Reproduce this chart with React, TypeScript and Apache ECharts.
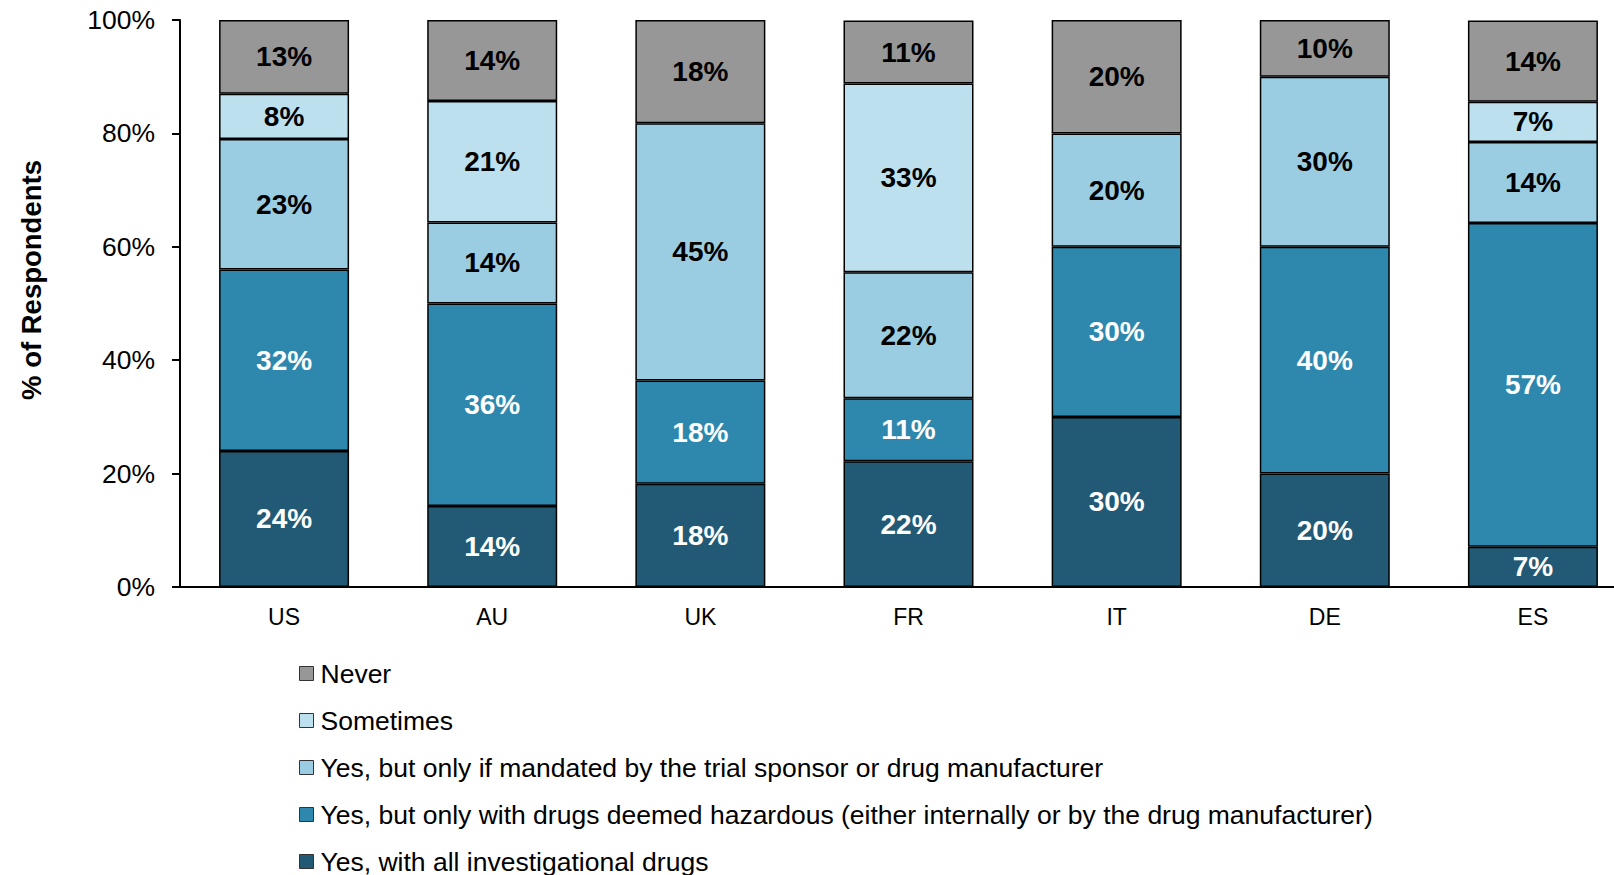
import React, { useEffect, useRef } from "react";
import * as echarts from "echarts";

const categories = ["US", "AU", "UK", "FR", "IT", "DE", "ES"];
const allDrugs = [24, 14.3, 18.2, 22.2, 30, 20, 7.1];
const hazardous = [32, 35.7, 18.2, 11.1, 30, 40, 57.1];
const mandated = [23, 14.3, 45.4, 22.2, 20, 30, 14.3];
const sometimes = [8, 21.4, null, 33.3, null, null, 7.1];
const never = [13, 14.3, 18.2, 11.1, 20, 10, 14.3];
const yTicks = [0, 20, 40, 60, 80, 100];

const seriesNames = [
  "Yes, with all investigational drugs",
  "Yes, but only with drugs deemed hazardous (either internally or by the drug manufacturer)",
  "Yes, but only if mandated by the trial sponsor or drug manufacturer",
  "Sometimes",
  "Never",
];
const seriesData = [allDrugs, hazardous, mandated, sometimes, never];
const seriesColors = ["#225A75", "#2E88AE", "#9BCDE2", "#BCE0EE", "#979797"];
const labelColors = ["#ffffff", "#ffffff", "#000000", "#000000", "#000000"];

const FONT = "'Liberation Sans', Arial, sans-serif";

export default function App() {
  const ref = useRef<HTMLDivElement>(null);
  useEffect(() => {
    if (!ref.current) return;
    const chart = echarts.init(ref.current, null, { renderer: "svg" });
    chart.setOption({
      animation: false,
      textStyle: { fontFamily: FONT },
      grid: { left: 180, right: 3, top: 20, bottom: 288, containLabel: false },
      legend: {
        orient: "vertical",
        left: 299,
        top: 660,
        height: 300,
        padding: 0,
        itemWidth: 14,
        itemHeight: 14,
        itemGap: 20,
        icon: "rect",
        data: [...seriesNames].reverse(),
        textStyle: { fontSize: 26.5, color: "#000", fontFamily: FONT, padding: [0, 0, 0, 2] },
        itemStyle: { borderColor: "#333", borderWidth: 1 },
      },
      xAxis: {
        type: "category",
        data: categories,
        axisLine: { show: true, lineStyle: { color: "#000", width: 2 } },
        axisTick: { show: false },
        axisLabel: { fontSize: 23, color: "#000", margin: 18, fontFamily: FONT },
      },
      yAxis: {
        type: "value",
        min: yTicks[0],
        max: yTicks[yTicks.length - 1],
        interval: 20,
        splitLine: { show: false },
        axisLine: { show: true, lineStyle: { color: "#000", width: 2 } },
        axisTick: { show: true, inside: false, length: 8, lineStyle: { color: "#000", width: 2 } },
        axisLabel: {
          fontSize: 26.5,
          color: "#000",
          margin: 25,
          fontFamily: FONT,
          formatter: (v: number) => v + "%",
        },
      },
      graphic: [
        {
          type: "text",
          x: 31,
          y: 280,
          rotation: Math.PI / 2,
          style: {
            text: "% of Respondents",
            fontSize: 27.5,
            fontWeight: "bold",
            fontFamily: FONT,
            fill: "#000",
            textAlign: "center",
            textVerticalAlign: "middle",
          },
        },
      ],
      series: seriesNames.map((name, i) => ({
        name,
        type: "bar",
        stack: "total",
        barWidth: 130,
        data: seriesData[i],
        itemStyle: { color: seriesColors[i], borderColor: "#000", borderWidth: 1.5 },
        label: {
          show: true,
          position: "inside",
          fontSize: 28,
          fontWeight: "bold",
          fontFamily: FONT,
          color: labelColors[i],
          formatter: (p: any) => (p.value == null ? "" : Math.round(p.value) + "%"),
        },
      })),
    });
    return () => chart.dispose();
  }, []);
  return (
    <div style={{ position: "absolute", left: 0, top: 0, width: 1614, height: 875, overflow: "hidden" }}>
      <div ref={ref} style={{ width: 1640, height: 875 }} />
    </div>
  );
}
